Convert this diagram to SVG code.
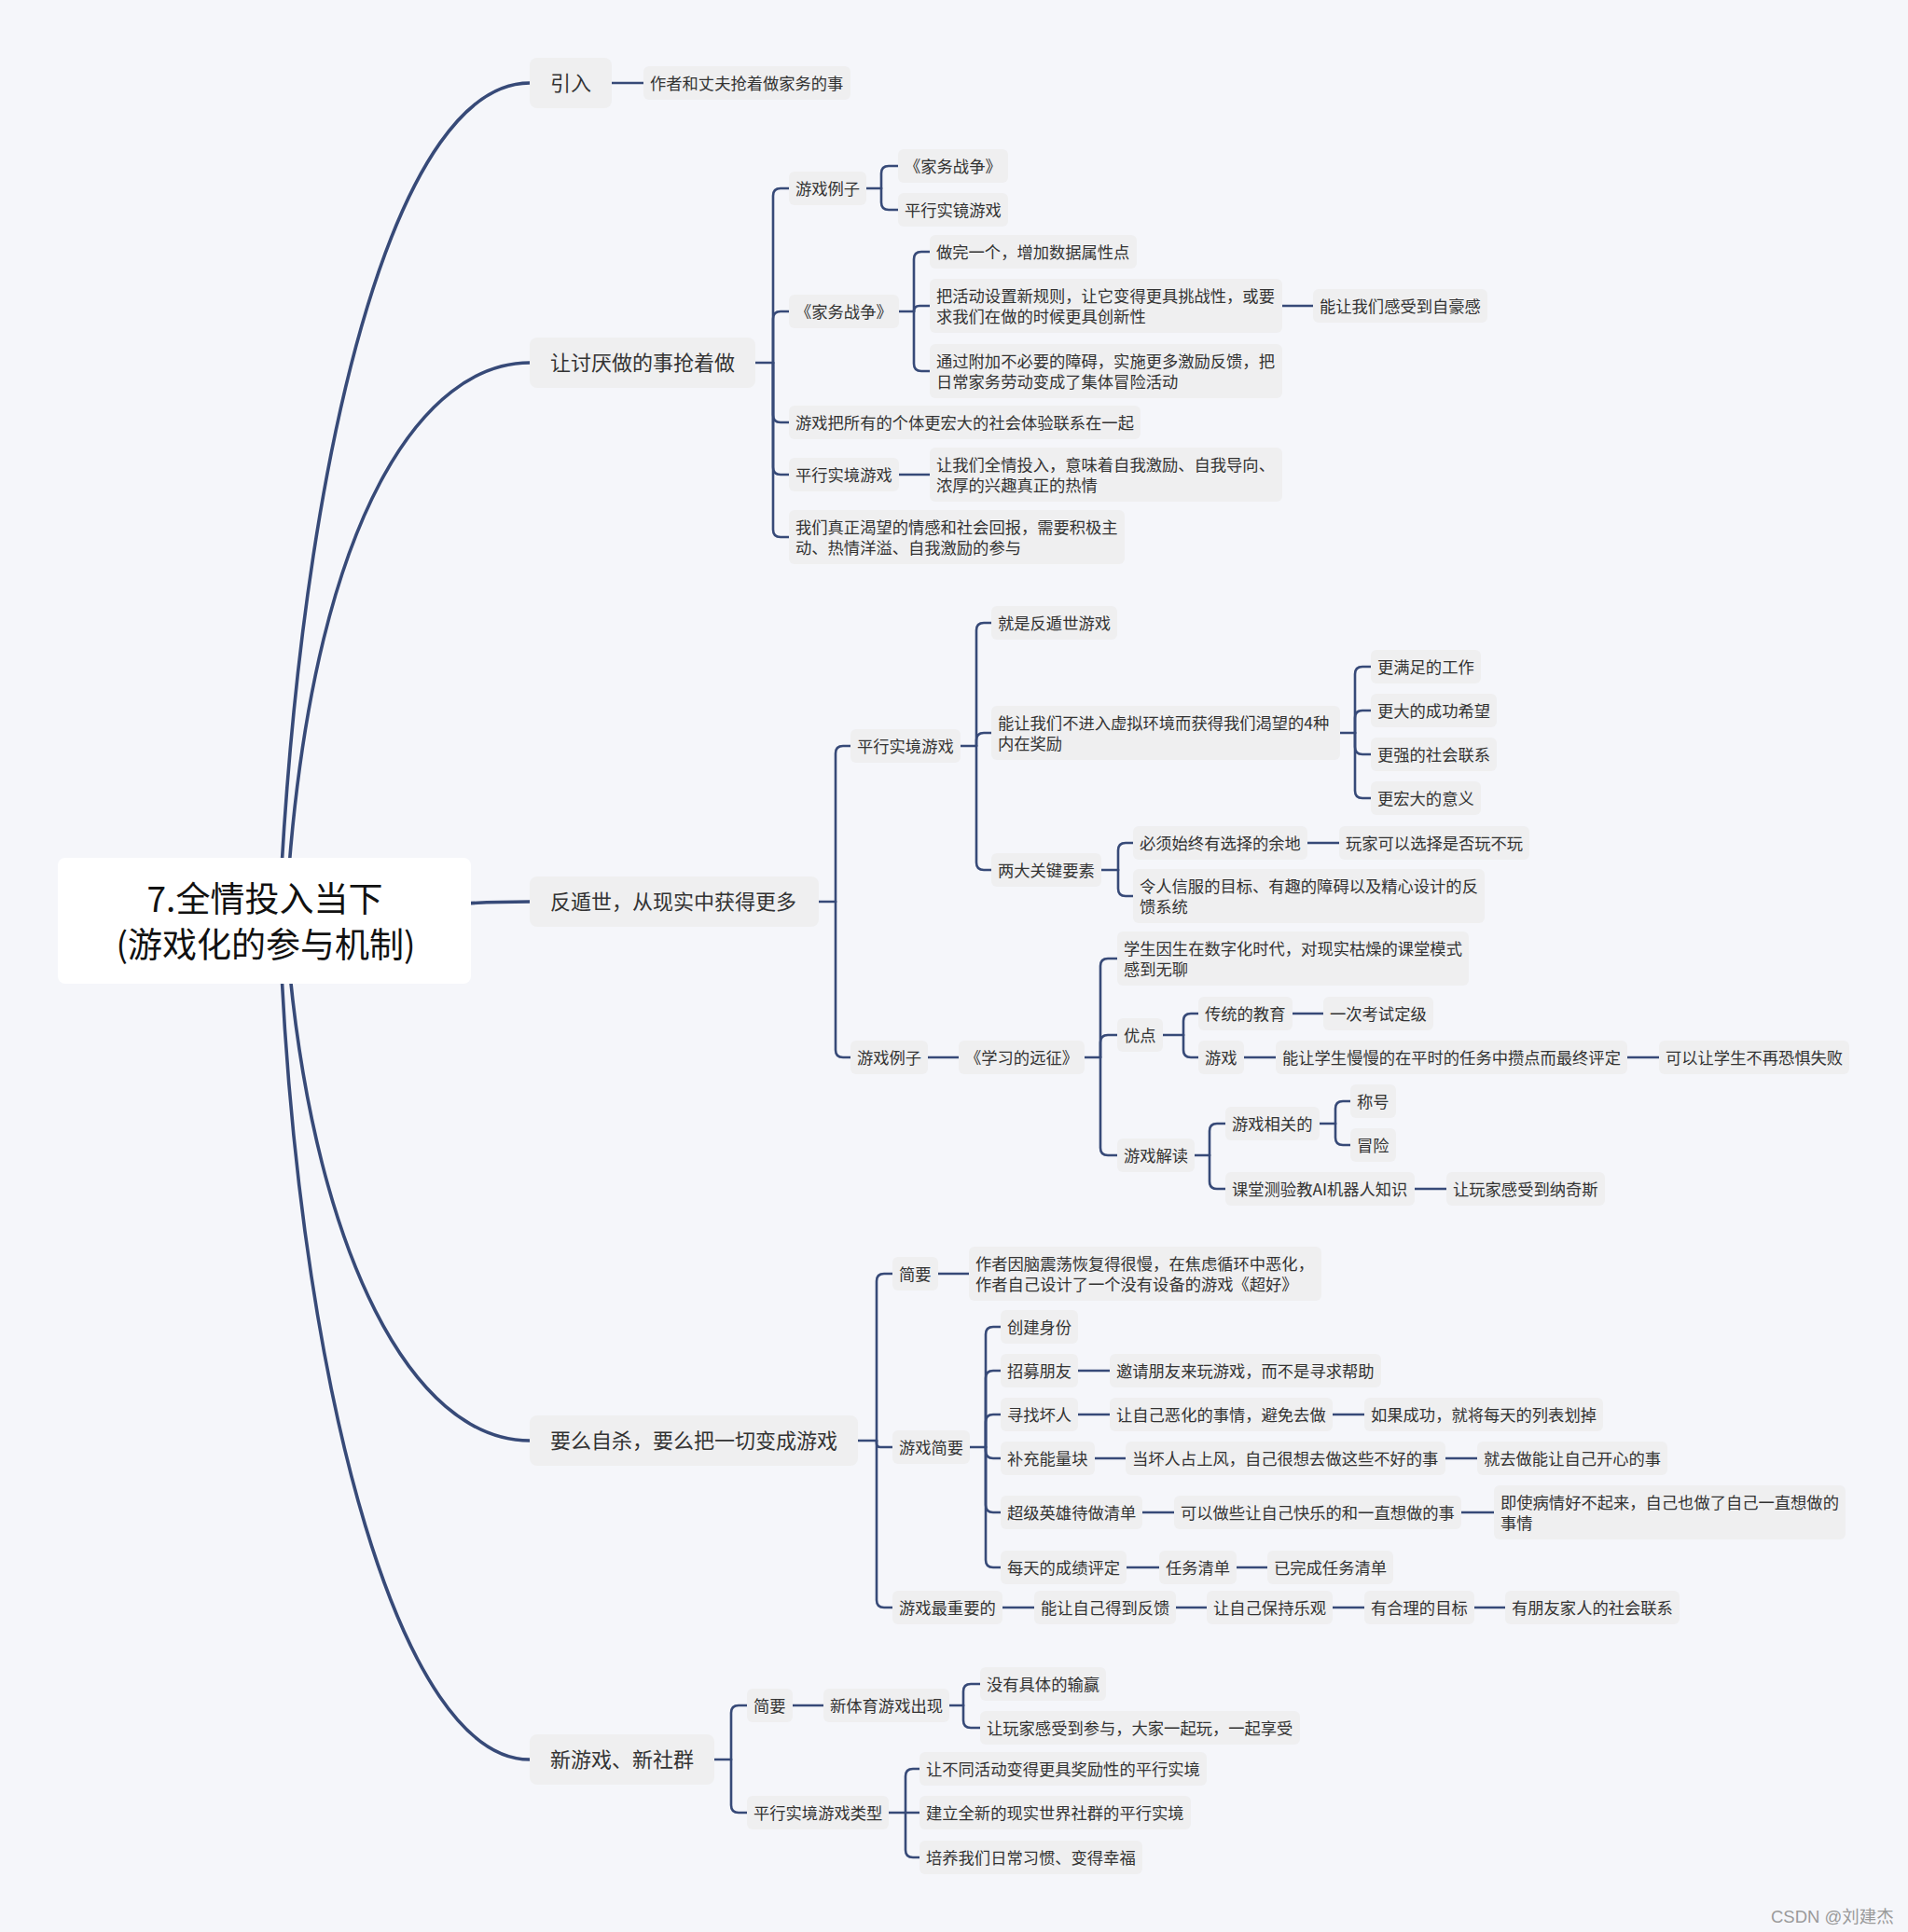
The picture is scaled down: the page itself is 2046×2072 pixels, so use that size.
<svg xmlns="http://www.w3.org/2000/svg" width="2046" height="2072" viewBox="0 0 2046 2072">
<style>
text{font-family:"Noto Sans CJK SC","Noto Sans",sans-serif;fill:#333}
.n{fill:#efeff0}
.t{font-size:17.3px}
.m{font-size:22px}
.r{font-size:37px;fill:#111;text-anchor:middle}
.c path{fill:none;stroke:#374a78;stroke-width:2.6;stroke-linecap:round}
.c path.main{stroke-width:3.6}
.wm{font-size:18.5px;fill:#9a9a9a;font-family:"Liberation Sans","Noto Sans CJK SC",sans-serif}
</style>
<rect width="2046" height="2072" fill="#f5f6fa"/>
<g class="c" id="connectors">
<path class="main" d="M302 930 C330 450 430 89 568 89"/>
<path class="main" d="M310 930 C340 550 455 389 568 389"/>
<path class="main" d="M500 969 C530 967 545 967 568 967"/>
<path class="main" d="M311 1045 C340 1340 440 1545 568 1545"/>
<path class="main" d="M302 1045 C325 1500 430 1887 568 1887"/>
<path d="M656 89 H690"/>
<path d="M810 389 H829"/>
<path d="M829 389 V210 Q829 202 837 202 H846"/>
<path d="M829 389 V342 Q829 334 837 334 H846"/>
<path d="M829 389 V445 Q829 453 837 453 H846"/>
<path d="M829 389 V501 Q829 509 837 509 H846"/>
<path d="M829 389 V568 Q829 576 837 576 H846"/>
<path d="M929 202 H945"/>
<path d="M945 202 V186 Q945 178 953 178 H963"/>
<path d="M945 202 V217 Q945 225 953 225 H963"/>
<path d="M964 334 H980"/>
<path d="M980 334 V278 Q980 270 988 270 H997"/>
<path d="M980 334 Q980 328 986 328 H997"/>
<path d="M980 334 V390 Q980 398 988 398 H997"/>
<path d="M1375 328 H1408"/>
<path d="M964 509 H997"/>
<path d="M878 967 H896"/>
<path d="M896 967 V808 Q896 800 904 800 H912"/>
<path d="M896 967 V1126 Q896 1134 904 1134 H912"/>
<path d="M1030 800 H1047"/>
<path d="M1047 800 V676 Q1047 668 1055 668 H1063"/>
<path d="M1047 800 V794 Q1047 786 1055 786 H1063"/>
<path d="M1047 800 V925 Q1047 933 1055 933 H1063"/>
<path d="M1437 786 H1453"/>
<path d="M1453 786 V723 Q1453 715 1461 715 H1470"/>
<path d="M1453 786 V770 Q1453 762 1461 762 H1470"/>
<path d="M1453 786 V801 Q1453 809 1461 809 H1470"/>
<path d="M1453 786 V848 Q1453 856 1461 856 H1470"/>
<path d="M1181 933 H1199"/>
<path d="M1199 933 V912 Q1199 904 1207 904 H1215"/>
<path d="M1199 933 V953 Q1199 961 1207 961 H1215"/>
<path d="M1402 904 H1436"/>
<path d="M995 1134 H1028"/>
<path d="M1163 1134 H1180"/>
<path d="M1180 1134 V1036 Q1180 1028 1188 1028 H1198"/>
<path d="M1180 1134 V1118 Q1180 1110 1188 1110 H1198"/>
<path d="M1180 1134 V1231 Q1180 1239 1188 1239 H1198"/>
<path d="M1247 1110 H1269"/>
<path d="M1269 1110 V1095 Q1269 1087 1277 1087 H1285"/>
<path d="M1269 1110 V1126 Q1269 1134 1277 1134 H1285"/>
<path d="M1386 1087 H1419"/>
<path d="M1334 1134 H1368"/>
<path d="M1745 1134 H1779"/>
<path d="M1281 1239 H1297"/>
<path d="M1297 1239 V1213 Q1297 1205 1305 1205 H1314"/>
<path d="M1297 1239 V1267 Q1297 1275 1305 1275 H1314"/>
<path d="M1415 1205 H1432"/>
<path d="M1432 1205 V1189 Q1432 1181 1440 1181 H1448"/>
<path d="M1432 1205 V1220 Q1432 1228 1440 1228 H1448"/>
<path d="M1517 1275 H1551"/>
<path d="M920 1545 H940"/>
<path d="M940 1545 V1374 Q940 1366 948 1366 H957"/>
<path d="M940 1545 V1548 Q940 1552 944 1552 H957"/>
<path d="M940 1545 V1716 Q940 1724 948 1724 H957"/>
<path d="M1006 1366 H1039"/>
<path d="M1040 1552 H1057"/>
<path d="M1057 1552 V1431 Q1057 1423 1065 1423 H1073"/>
<path d="M1057 1552 V1478 Q1057 1470 1065 1470 H1073"/>
<path d="M1057 1552 V1525 Q1057 1517 1065 1517 H1073"/>
<path d="M1057 1552 V1556 Q1057 1564 1065 1564 H1073"/>
<path d="M1057 1552 V1614 Q1057 1622 1065 1622 H1073"/>
<path d="M1057 1552 V1673 Q1057 1681 1065 1681 H1073"/>
<path d="M1156 1470 H1190"/>
<path d="M1156 1517 H1190"/>
<path d="M1429 1517 H1463"/>
<path d="M1174 1564 H1207"/>
<path d="M1550 1564 H1584"/>
<path d="M1225 1622 H1259"/>
<path d="M1567 1622 H1602"/>
<path d="M1208 1681 H1243"/>
<path d="M1326 1681 H1359"/>
<path d="M1075 1724 H1109"/>
<path d="M1261 1724 H1294"/>
<path d="M1429 1724 H1463"/>
<path d="M1581 1724 H1614"/>
<path d="M766 1887 H784"/>
<path d="M784 1887 V1837 Q784 1829 792 1829 H801"/>
<path d="M784 1887 V1936 Q784 1944 792 1944 H801"/>
<path d="M850 1829 H883"/>
<path d="M1018 1829 H1033"/>
<path d="M1033 1829 V1814 Q1033 1806 1041 1806 H1051"/>
<path d="M1033 1829 V1845 Q1033 1853 1041 1853 H1051"/>
<path d="M953 1944 H971"/>
<path d="M971 1944 V1905 Q971 1897 979 1897 H986"/>
<path d="M971 1944 H986"/>
<path d="M971 1944 V1984 Q971 1992 979 1992 H986"/>
</g>
<g id="root"><rect x="62" y="920" width="443" height="135" rx="8" fill="#ffffff"/><text class="r" x="284" y="978">7.全情投入当下</text><text class="r" x="285" y="1027">(游戏化的参与机制)</text></g>
<g id="n-a"><rect class="n" x="568" y="62" width="88" height="54" rx="8"/><text class="m" x="590" y="97">引入</text></g>
<g id="n-a1"><rect class="n" x="690" y="71" width="222" height="36" rx="6"/><text class="t" x="697" y="95.5">作者和丈夫抢着做家务的事</text></g>
<g id="n-b"><rect class="n" x="568" y="362" width="242" height="54" rx="8"/><text class="m" x="590" y="397">让讨厌做的事抢着做</text></g>
<g id="n-b1"><rect class="n" x="846" y="184" width="83" height="36" rx="6"/><text class="t" x="853" y="208.5">游戏例子</text></g>
<g id="n-b1a"><rect class="n" x="963" y="160" width="118" height="36" rx="6"/><text class="t" x="970" y="184.5">《家务战争》</text></g>
<g id="n-b1b"><rect class="n" x="963" y="207" width="118" height="36" rx="6"/><text class="t" x="970" y="231.5">平行实镜游戏</text></g>
<g id="n-b2"><rect class="n" x="846" y="316" width="118" height="36" rx="6"/><text class="t" x="853" y="340.5">《家务战争》</text></g>
<g id="n-b2a"><rect class="n" x="997" y="252" width="222" height="36" rx="6"/><text class="t" x="1004" y="276.5">做完一个，增加数据属性点</text></g>
<g id="n-b2b"><rect class="n" x="997" y="299" width="378" height="58" rx="6"/><text class="t" x="1004" y="323.5">把活动设置新规则，让它变得更具挑战性，或要</text><text class="t" x="1004" y="345.5">求我们在做的时候更具创新性</text></g>
<g id="n-b2b1"><rect class="n" x="1408" y="310" width="187" height="36" rx="6"/><text class="t" x="1415" y="334.5">能让我们感受到自豪感</text></g>
<g id="n-b2c"><rect class="n" x="997" y="369" width="378" height="58" rx="6"/><text class="t" x="1004" y="393.5">通过附加不必要的障碍，实施更多激励反馈，把</text><text class="t" x="1004" y="415.5">日常家务劳动变成了集体冒险活动</text></g>
<g id="n-b3"><rect class="n" x="846" y="435" width="377" height="36" rx="6"/><text class="t" x="853" y="459.5">游戏把所有的个体更宏大的社会体验联系在一起</text></g>
<g id="n-b4"><rect class="n" x="846" y="491" width="118" height="36" rx="6"/><text class="t" x="853" y="515.5">平行实境游戏</text></g>
<g id="n-b4a"><rect class="n" x="997" y="480" width="378" height="58" rx="6"/><text class="t" x="1004" y="504.5">让我们全情投入，意味着自我激励、自我导向、</text><text class="t" x="1004" y="526.5">浓厚的兴趣真正的热情</text></g>
<g id="n-b5"><rect class="n" x="846" y="547" width="360" height="58" rx="6"/><text class="t" x="853" y="571.5">我们真正渴望的情感和社会回报，需要积极主</text><text class="t" x="853" y="593.5">动、热情洋溢、自我激励的参与</text></g>
<g id="n-c"><rect class="n" x="568" y="940" width="310" height="54" rx="8"/><text class="m" x="590" y="975">反遁世，从现实中获得更多</text></g>
<g id="n-c1"><rect class="n" x="912" y="782" width="118" height="36" rx="6"/><text class="t" x="919" y="806.5">平行实境游戏</text></g>
<g id="n-c1a"><rect class="n" x="1063" y="650" width="135" height="36" rx="6"/><text class="t" x="1070" y="674.5">就是反遁世游戏</text></g>
<g id="n-c1b"><rect class="n" x="1063" y="757" width="374" height="58" rx="6"/><text class="t" x="1070" y="781.5">能让我们不进入虚拟环境而获得我们渴望的4种</text><text class="t" x="1070" y="803.5">内在奖励</text></g>
<g id="n-c1b1"><rect class="n" x="1470" y="697" width="118" height="36" rx="6"/><text class="t" x="1477" y="721.5">更满足的工作</text></g>
<g id="n-c1b2"><rect class="n" x="1470" y="744" width="135" height="36" rx="6"/><text class="t" x="1477" y="768.5">更大的成功希望</text></g>
<g id="n-c1b3"><rect class="n" x="1470" y="791" width="135" height="36" rx="6"/><text class="t" x="1477" y="815.5">更强的社会联系</text></g>
<g id="n-c1b4"><rect class="n" x="1470" y="838" width="118" height="36" rx="6"/><text class="t" x="1477" y="862.5">更宏大的意义</text></g>
<g id="n-c1c"><rect class="n" x="1063" y="915" width="118" height="36" rx="6"/><text class="t" x="1070" y="939.5">两大关键要素</text></g>
<g id="n-c1c1"><rect class="n" x="1215" y="886" width="187" height="36" rx="6"/><text class="t" x="1222" y="910.5">必须始终有选择的余地</text></g>
<g id="n-c1c1a"><rect class="n" x="1436" y="886" width="204" height="36" rx="6"/><text class="t" x="1443" y="910.5">玩家可以选择是否玩不玩</text></g>
<g id="n-c1c2"><rect class="n" x="1215" y="932" width="377" height="58" rx="6"/><text class="t" x="1222" y="956.5">令人信服的目标、有趣的障碍以及精心设计的反</text><text class="t" x="1222" y="978.5">馈系统</text></g>
<g id="n-c2"><rect class="n" x="912" y="1116" width="83" height="36" rx="6"/><text class="t" x="919" y="1140.5">游戏例子</text></g>
<g id="n-c2a"><rect class="n" x="1028" y="1116" width="135" height="36" rx="6"/><text class="t" x="1035" y="1140.5">《学习的远征》</text></g>
<g id="n-c2a1"><rect class="n" x="1198" y="999" width="377" height="58" rx="6"/><text class="t" x="1205" y="1023.5">学生因生在数字化时代，对现实枯燥的课堂模式</text><text class="t" x="1205" y="1045.5">感到无聊</text></g>
<g id="n-c2a2"><rect class="n" x="1198" y="1092" width="49" height="36" rx="6"/><text class="t" x="1205" y="1116.5">优点</text></g>
<g id="n-c2a2a"><rect class="n" x="1285" y="1069" width="101" height="36" rx="6"/><text class="t" x="1292" y="1093.5">传统的教育</text></g>
<g id="n-c2a2a1"><rect class="n" x="1419" y="1069" width="118" height="36" rx="6"/><text class="t" x="1426" y="1093.5">一次考试定级</text></g>
<g id="n-c2a2b"><rect class="n" x="1285" y="1116" width="49" height="36" rx="6"/><text class="t" x="1292" y="1140.5">游戏</text></g>
<g id="n-c2a2b1"><rect class="n" x="1368" y="1116" width="377" height="36" rx="6"/><text class="t" x="1375" y="1140.5">能让学生慢慢的在平时的任务中攒点而最终评定</text></g>
<g id="n-c2a2b2"><rect class="n" x="1779" y="1116" width="204" height="36" rx="6"/><text class="t" x="1786" y="1140.5">可以让学生不再恐惧失败</text></g>
<g id="n-c2a3"><rect class="n" x="1198" y="1221" width="83" height="36" rx="6"/><text class="t" x="1205" y="1245.5">游戏解读</text></g>
<g id="n-c2a3a"><rect class="n" x="1314" y="1187" width="101" height="36" rx="6"/><text class="t" x="1321" y="1211.5">游戏相关的</text></g>
<g id="n-c2a3a1"><rect class="n" x="1448" y="1163" width="49" height="36" rx="6"/><text class="t" x="1455" y="1187.5">称号</text></g>
<g id="n-c2a3a2"><rect class="n" x="1448" y="1210" width="49" height="36" rx="6"/><text class="t" x="1455" y="1234.5">冒险</text></g>
<g id="n-c2a3b"><rect class="n" x="1314" y="1257" width="203" height="36" rx="6"/><text class="t" x="1321" y="1281.5">课堂测验教AI机器人知识</text></g>
<g id="n-c2a3b1"><rect class="n" x="1551" y="1257" width="170" height="36" rx="6"/><text class="t" x="1558" y="1281.5">让玩家感受到纳奇斯</text></g>
<g id="n-d"><rect class="n" x="568" y="1518" width="352" height="54" rx="8"/><text class="m" x="590" y="1553">要么自杀，要么把一切变成游戏</text></g>
<g id="n-d1"><rect class="n" x="957" y="1348" width="49" height="36" rx="6"/><text class="t" x="964" y="1372.5">简要</text></g>
<g id="n-d1a"><rect class="n" x="1039" y="1337" width="378" height="58" rx="6"/><text class="t" x="1046" y="1361.5">作者因脑震荡恢复得很慢，在焦虑循环中恶化，</text><text class="t" x="1046" y="1383.5">作者自己设计了一个没有设备的游戏《超好》</text></g>
<g id="n-d2"><rect class="n" x="957" y="1534" width="83" height="36" rx="6"/><text class="t" x="964" y="1558.5">游戏简要</text></g>
<g id="n-d2a"><rect class="n" x="1073" y="1405" width="83" height="36" rx="6"/><text class="t" x="1080" y="1429.5">创建身份</text></g>
<g id="n-d2b"><rect class="n" x="1073" y="1452" width="83" height="36" rx="6"/><text class="t" x="1080" y="1476.5">招募朋友</text></g>
<g id="n-d2b1"><rect class="n" x="1190" y="1452" width="291" height="36" rx="6"/><text class="t" x="1197" y="1476.5">邀请朋友来玩游戏，而不是寻求帮助</text></g>
<g id="n-d2c"><rect class="n" x="1073" y="1499" width="83" height="36" rx="6"/><text class="t" x="1080" y="1523.5">寻找坏人</text></g>
<g id="n-d2c1"><rect class="n" x="1190" y="1499" width="239" height="36" rx="6"/><text class="t" x="1197" y="1523.5">让自己恶化的事情，避免去做</text></g>
<g id="n-d2c2"><rect class="n" x="1463" y="1499" width="256" height="36" rx="6"/><text class="t" x="1470" y="1523.5">如果成功，就将每天的列表划掉</text></g>
<g id="n-d2d"><rect class="n" x="1073" y="1546" width="101" height="36" rx="6"/><text class="t" x="1080" y="1570.5">补充能量块</text></g>
<g id="n-d2d1"><rect class="n" x="1207" y="1546" width="343" height="36" rx="6"/><text class="t" x="1214" y="1570.5">当坏人占上风，自己很想去做这些不好的事</text></g>
<g id="n-d2d2"><rect class="n" x="1584" y="1546" width="204" height="36" rx="6"/><text class="t" x="1591" y="1570.5">就去做能让自己开心的事</text></g>
<g id="n-d2e"><rect class="n" x="1073" y="1604" width="152" height="36" rx="6"/><text class="t" x="1080" y="1628.5">超级英雄待做清单</text></g>
<g id="n-d2e1"><rect class="n" x="1259" y="1604" width="308" height="36" rx="6"/><text class="t" x="1266" y="1628.5">可以做些让自己快乐的和一直想做的事</text></g>
<g id="n-d2e2"><rect class="n" x="1602" y="1593" width="377" height="58" rx="6"/><text class="t" x="1609" y="1617.5">即使病情好不起来，自己也做了自己一直想做的</text><text class="t" x="1609" y="1639.5">事情</text></g>
<g id="n-d2f"><rect class="n" x="1073" y="1663" width="135" height="36" rx="6"/><text class="t" x="1080" y="1687.5">每天的成绩评定</text></g>
<g id="n-d2f1"><rect class="n" x="1243" y="1663" width="83" height="36" rx="6"/><text class="t" x="1250" y="1687.5">任务清单</text></g>
<g id="n-d2f2"><rect class="n" x="1359" y="1663" width="135" height="36" rx="6"/><text class="t" x="1366" y="1687.5">已完成任务清单</text></g>
<g id="n-d3"><rect class="n" x="957" y="1706" width="118" height="36" rx="6"/><text class="t" x="964" y="1730.5">游戏最重要的</text></g>
<g id="n-d3a"><rect class="n" x="1109" y="1706" width="152" height="36" rx="6"/><text class="t" x="1116" y="1730.5">能让自己得到反馈</text></g>
<g id="n-d3b"><rect class="n" x="1294" y="1706" width="135" height="36" rx="6"/><text class="t" x="1301" y="1730.5">让自己保持乐观</text></g>
<g id="n-d3c"><rect class="n" x="1463" y="1706" width="118" height="36" rx="6"/><text class="t" x="1470" y="1730.5">有合理的目标</text></g>
<g id="n-d3d"><rect class="n" x="1614" y="1706" width="187" height="36" rx="6"/><text class="t" x="1621" y="1730.5">有朋友家人的社会联系</text></g>
<g id="n-e"><rect class="n" x="568" y="1860" width="198" height="54" rx="8"/><text class="m" x="590" y="1895">新游戏、新社群</text></g>
<g id="n-e1"><rect class="n" x="801" y="1811" width="49" height="36" rx="6"/><text class="t" x="808" y="1835.5">简要</text></g>
<g id="n-e1a"><rect class="n" x="883" y="1811" width="135" height="36" rx="6"/><text class="t" x="890" y="1835.5">新体育游戏出现</text></g>
<g id="n-e1a1"><rect class="n" x="1051" y="1788" width="135" height="36" rx="6"/><text class="t" x="1058" y="1812.5">没有具体的输赢</text></g>
<g id="n-e1a2"><rect class="n" x="1051" y="1835" width="343" height="36" rx="6"/><text class="t" x="1058" y="1859.5">让玩家感受到参与，大家一起玩，一起享受</text></g>
<g id="n-e2"><rect class="n" x="801" y="1926" width="152" height="36" rx="6"/><text class="t" x="808" y="1950.5">平行实境游戏类型</text></g>
<g id="n-e2a"><rect class="n" x="986" y="1879" width="308" height="36" rx="6"/><text class="t" x="993" y="1903.5">让不同活动变得更具奖励性的平行实境</text></g>
<g id="n-e2b"><rect class="n" x="986" y="1926" width="291" height="36" rx="6"/><text class="t" x="993" y="1950.5">建立全新的现实世界社群的平行实境</text></g>
<g id="n-e2c"><rect class="n" x="986" y="1974" width="239" height="36" rx="6"/><text class="t" x="993" y="1998.5">培养我们日常习惯、变得幸福</text></g>
<text class="wm" x="1899" y="2062">CSDN @刘建杰</text>
</svg>
